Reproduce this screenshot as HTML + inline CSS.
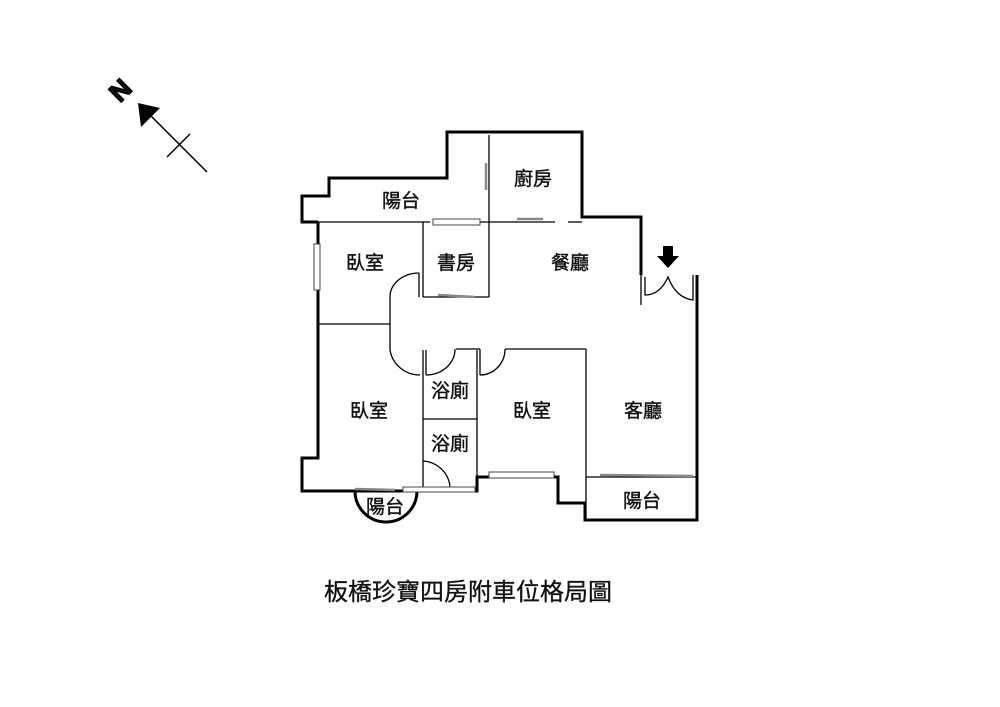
<!DOCTYPE html>
<html><head><meta charset="utf-8"><style>
body{margin:0;background:#fff}
svg{display:block}
text{font-family:"Liberation Sans","Noto Sans CJK TC",sans-serif;fill:#111}
</style></head><body>
<svg width="1000" height="707" viewBox="0 0 1000 707">
<!-- compass -->
<text x="121" y="99" font-size="26" font-weight="bold" text-anchor="middle" stroke="#000" stroke-width="1.5" transform="rotate(-45 121 91)">N</text>
<polygon points="138,103 141,127 160,108" fill="#000"/>
<line x1="150" y1="115" x2="207" y2="172" stroke="#000" stroke-width="1.5"/>
<line x1="167" y1="157" x2="190" y2="134" stroke="#000" stroke-width="1.5"/>
<!-- outer thick walls -->
<g fill="none" stroke="#000" stroke-width="3" stroke-linejoin="miter">
<polyline points="318,222 302,222 302,196 329,196 329,178 447,178 447,132 582,132 582,217 641,217 641,275"/>
<polyline points="697,275 697,520 585,520 585,503 558,503 558,477 477,477 477,491 302,491 302,458 318,458 318,222"/>
<path d="M355,491 A31,31 0 0 0 417,491"/>
</g>
<!-- thin interior -->
<g fill="none" stroke="#000" stroke-width="1.3">
<line x1="318" y1="222" x2="430" y2="222"/>
<line x1="480" y1="222" x2="555" y2="222"/>
<line x1="568" y1="222" x2="582" y2="222"/>
<line x1="489" y1="135" x2="489" y2="297"/>
<line x1="423" y1="222" x2="423" y2="297"/>
<line x1="423" y1="297" x2="489" y2="297"/>
<line x1="419" y1="273" x2="419" y2="297"/>
<line x1="318" y1="324" x2="390" y2="324"/>
<line x1="390" y1="297" x2="390" y2="350"/>
<path d="M390,297 A29,24 0 0 1 419,273"/>
<path d="M390,350 A30,30 0 0 0 420,375"/>
<line x1="423" y1="350" x2="423" y2="488"/>
<line x1="426" y1="350" x2="426" y2="375"/>
<line x1="477" y1="350" x2="477" y2="477"/>
<line x1="480" y1="349" x2="480" y2="375"/>
<line x1="480" y1="349" x2="456" y2="349"/>
<path d="M426,375 A29,26 0 0 0 455,349"/>
<path d="M480,375 A25,26 0 0 0 505,349"/>
<line x1="505" y1="349" x2="586" y2="349"/>
<line x1="423" y1="419" x2="477" y2="419"/>
<path d="M423,461 A29,28 0 0 1 450,489"/>
<line x1="586" y1="349" x2="586" y2="519"/>
<line x1="586" y1="477" x2="697" y2="477"/>
<line x1="641" y1="275" x2="641" y2="305"/>
<path d="M645,277 L645,295 Q660,295 668,277 Q676,298 693,300 L693,275"/>
</g>
<!-- windows -->
<g fill="#fff" stroke="#444" stroke-width="1">
<rect x="314" y="244" width="6" height="46"/>
<rect x="433" y="219" width="47" height="6"/>
<rect x="489" y="472" width="65" height="6"/>
<rect x="403" y="487" width="72" height="5"/>
</g>
<g stroke="#888" stroke-width="2.5">
<line x1="486" y1="163" x2="486" y2="190"/>
<line x1="517" y1="219" x2="543" y2="219"/>
<line x1="438" y1="295" x2="475" y2="297"/>
<line x1="600" y1="475" x2="693" y2="476"/>
<line x1="355" y1="489" x2="395" y2="490"/>
</g>
<!-- entrance arrow -->
<polygon points="663,246 673,246 673,256 679,256 668,268 657,256 663,256" fill="#000"/>
<!-- labels -->
<g font-size="19" text-anchor="middle" stroke="#111" stroke-width="0.4">
<text x="401" y="207">陽台</text>
<text x="533" y="185">廚房</text>
<text x="365" y="269">臥室</text>
<text x="456" y="269">書房</text>
<text x="570" y="269">餐廳</text>
<text x="450" y="397">浴廁</text>
<text x="450" y="450">浴廁</text>
<text x="369" y="417">臥室</text>
<text x="532" y="417">臥室</text>
<text x="643" y="417">客廳</text>
<text x="385" y="513">陽台</text>
<text x="642" y="507">陽台</text>
</g>
<text x="468" y="600" font-size="24" text-anchor="middle" stroke="#111" stroke-width="0.3">板橋珍寶四房附車位格局圖</text>
</svg>
</body></html>
